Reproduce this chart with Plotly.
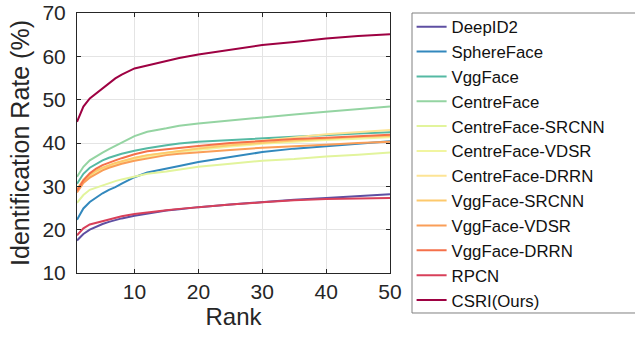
import plotly.graph_objects as go

ranks = [1, 2, 3, 4, 5, 6, 7, 8, 10, 12, 15, 17, 20, 25, 30, 35, 40, 45, 50]

deepid2 = [17.5, 19.0, 20.0, 20.7, 21.3, 21.8, 22.2, 22.6, 23.2, 23.7, 24.4, 24.7, 25.2, 25.8, 26.4, 26.9, 27.3, 27.8, 28.2]
sphereface = [22.3, 24.9, 26.4, 27.5, 28.4, 29.2, 29.8, 30.6, 32.1, 33.2, 34.2, 34.7, 35.6, 36.8, 37.9, 38.7, 39.3, 39.9, 40.4]
vggface = [30.6, 32.9, 34.3, 35.2, 36.0, 36.6, 37.1, 37.5, 38.2, 38.8, 39.5, 39.9, 40.3, 40.7, 41.1, 41.5, 41.9, 42.2, 42.5]
centreface = [32.2, 34.5, 36.0, 37.0, 37.8, 38.6, 39.4, 40.1, 41.6, 42.6, 43.4, 44.0, 44.5, 45.2, 46.0, 46.6, 47.2, 47.8, 48.4]
centreface_srcnn = [26.2, 28.0, 29.2, 29.7, 30.3, 30.8, 31.2, 31.6, 32.3, 32.9, 33.4, 33.8, 34.5, 35.2, 35.9, 36.3, 36.9, 37.3, 37.8]
centreface_vdsr = [29.0, 31.0, 32.3, 33.3, 34.0, 34.6, 35.0, 35.4, 36.2, 36.8, 37.5, 37.9, 38.4, 39.2, 39.8, 40.3, 40.7, 41.0, 41.3]
centreface_drrn = [29.4, 31.6, 32.8, 33.6, 34.2, 34.8, 35.3, 35.7, 36.5, 37.1, 37.8, 38.2, 38.8, 39.8, 40.6, 41.3, 42.0, 42.5, 43.0]
vggface_srcnn = [29.2, 31.2, 32.6, 33.6, 34.3, 34.9, 35.4, 35.8, 36.6, 37.2, 37.8, 38.2, 38.7, 39.5, 40.1, 40.6, 41.0, 41.4, 41.6]
vggface_vdsr = [28.6, 30.8, 32.0, 32.9, 33.7, 34.3, 34.8, 35.2, 35.9, 36.4, 37.2, 37.5, 37.9, 38.4, 38.9, 39.2, 39.6, 40.0, 40.3]
vggface_drrn = [29.0, 31.4, 33.0, 34.1, 34.9, 35.5, 36.0, 36.5, 37.4, 38.1, 38.6, 38.9, 39.3, 40.0, 40.5, 40.9, 41.2, 41.5, 41.9]
rpcn = [18.7, 20.3, 21.2, 21.6, 22.0, 22.4, 22.8, 23.1, 23.6, 24.0, 24.5, 24.8, 25.2, 25.8, 26.3, 26.8, 27.1, 27.2, 27.3]
csri = [44.9, 48.4, 50.3, 51.5, 52.6, 53.8, 54.9, 55.8, 57.2, 57.9, 59.0, 59.6, 60.4, 61.5, 62.6, 63.3, 64.1, 64.7, 65.1]

names = ["DeepID2", "SphereFace", "VggFace", "CentreFace", "CentreFace-SRCNN",
         "CentreFace-VDSR", "CentreFace-DRRN", "VggFace-SRCNN", "VggFace-VDSR",
         "VggFace-DRRN", "RPCN", "CSRI(Ours)"]
series = [deepid2, sphereface, vggface, centreface, centreface_srcnn, centreface_vdsr,
          centreface_drrn, vggface_srcnn, vggface_vdsr, vggface_drrn, rpcn, csri]
colors = ["#5e4fa2", "#3288bd", "#55b9a3", "#94d4a2", "#e2f49c", "#f1f5a0",
          "#fde495", "#fdc96c", "#fa9e58", "#f5704a", "#d8405a", "#9e0142"]

fig = go.Figure()
for n, s, c in zip(names, series, colors):
    fig.add_trace(go.Scatter(x=ranks, y=s, name=n, mode="lines",
                             line=dict(color=c, width=2)))

font = "Liberation Sans, Arial, Helvetica, sans-serif"
fig.update_layout(
    width=635, height=337,
    margin=dict(l=77, r=245, t=13, b=64, autoexpand=False),
    paper_bgcolor="white", plot_bgcolor="white",
    font=dict(family=font, color="#262626"),
    showlegend=True,
    legend=dict(x=1.069, y=1.0142, xanchor="left", yanchor="top",
                borderwidth=0, bgcolor="rgba(255,255,255,0)",
                font=dict(size=16.8, color="#111111", family=font),
                traceorder="normal", itemwidth=30, maxheight=400),
    shapes=[dict(type="rect", xref="paper", yref="paper",
                 x0=1.0703, x1=1.80, y0=-0.1538, y1=1.0,
                 line=dict(color="#808080", width=1), fillcolor="rgba(0,0,0,0)",
                 layer="below")],
)
fig.update_xaxes(range=[1, 50], tickvals=[10, 20, 30, 40, 50], automargin=False,
                 showgrid=True, gridcolor="#e4e4e4", gridwidth=1,
                 showline=True, linecolor="#262626", linewidth=1, mirror="allticks",
                 ticks="inside", ticklen=4, tickcolor="#262626",
                 tickfont=dict(size=21, color="#262626"),
                 title=dict(text="Rank", font=dict(size=24, color="#262626"), standoff=2),
                 zeroline=False)
fig.update_yaxes(range=[10, 70], dtick=10, automargin=False,
                 showgrid=True, gridcolor="#e4e4e4", gridwidth=1,
                 showline=True, linecolor="#262626", linewidth=1, mirror="allticks",
                 ticks="inside", ticklen=4, tickcolor="#262626",
                 tickfont=dict(size=21, color="#262626"),
                 ticklabelstandoff=6,
                 title=dict(text="Identification Rate (%)", font=dict(size=25, color="#262626"), standoff=5),
                 zeroline=False)

fig.write_html("out.html", config={"displayModeBar": False},
               post_script="document.body.style.margin='0';")
